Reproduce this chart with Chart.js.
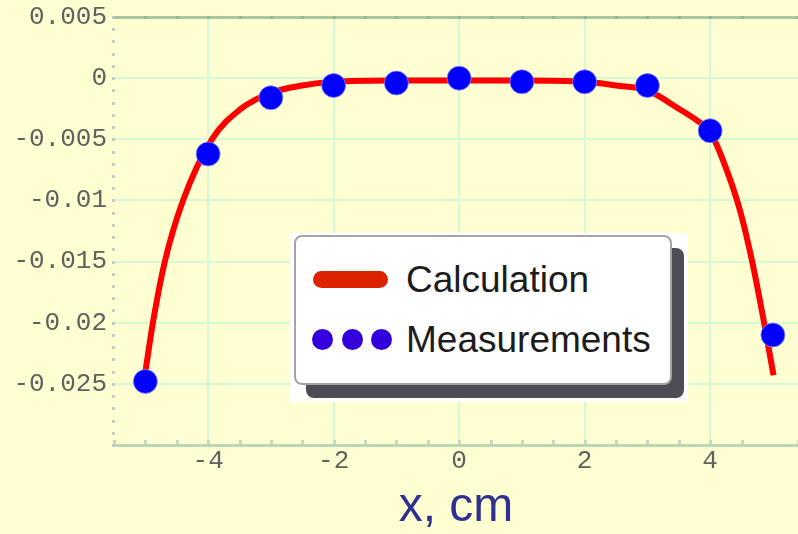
<!DOCTYPE html>
<html>
<head>
<meta charset="utf-8">
<script src="https://cdn.jsdelivr.net/npm/chart.js@4.4.1/dist/chart.umd.min.js"></script>
<style>
  html, body { margin: 0; padding: 0; background: #ffffd2; overflow: hidden; }
  #wrap { position: relative; width: 798px; height: 534px; }
  #legendPaper { position: absolute; left: 290px; top: 233px; width: 398px; height: 169px; background: #fff; }
  #legendShadow { position: absolute; left: 16px; top: 15px; width: 378px; height: 150px; background: #4d4d57; border-radius: 8px; }
  #legendBox { position: absolute; left: 4px; top: 2px; width: 378px; height: 150px; box-sizing: border-box;
               border: 2px solid #a4a4a4; border-radius: 8px; background: #fff; }
  .item { position: absolute; left: 0; width: 374px; height: 36px; }
  .item:nth-child(1) { top: 25px; }
  .item:nth-child(2) { top: 85px; }
  .item .label { position: absolute; left: 110px; top: 0; font: 37px "Liberation Sans", Arial, sans-serif;
                 line-height: 36px; color: #1c1c1c; white-space: nowrap; }
  .item .bar { position: absolute; left: 17px; top: 9px; width: 75px; height: 17px; border-radius: 9px; background: #dd2200; }
  .item .dot { position: absolute; top: 7px; width: 21px; height: 21px; border-radius: 50%; background: #3300dd; }
</style>
</head>
<body>
<div id="wrap">
  <canvas id="chart" width="798" height="534"></canvas>
  <div id="legendPaper">
    <div id="legendShadow"></div>
    <div id="legendBox"></div>
  </div>
</div>
<script>
// measured points
const measX = [-5, -4, -3, -2, -1, 0, 1, 2, 3, 4, 5];
const measY = [-0.0248, -0.0062, -0.0016, -0.0006, -0.0004, 0.0000, -0.0003, -0.0003, -0.0006, -0.0043, -0.0210];

// calculated curve
const calcX = [-5.0, -4.88, -4.69, -4.40, -3.94, -3.5, -3.0, -2.5, -2.0, -1.0, 0, 1.0, 2.0, 2.5, 3.0, 3.5, 3.8, 4.0, 4.27, 4.48, 4.67, 4.86, 5.01];
const calcY = [-0.0240, -0.0200, -0.0150, -0.0100, -0.0050, -0.0026, -0.0012, -0.0006, -0.0003, -0.0002, -0.0002,
               -0.0002, -0.0003, -0.0006, -0.0010, -0.0025, -0.0035, -0.0044, -0.0076, -0.0109, -0.0150, -0.0200, -0.0243];

// labelled ticks
const xTickLabels = [-4, -2, 0, 2, 4];
const yTickLabels = [0.005, 0, -0.005, -0.01, -0.015, -0.02, -0.025];

const near = (a, b) => Math.abs(a - b) < 1e-9;
const isLabelled = (list, v) => list.some(l => near(l, v));

const tickFont = { family: 'Liberation Mono', size: 26 };
const gridGreen = '#d4fad4';

// little tick marks along the frame edges
const minorTicks = {
  id: 'minorTicks',
  beforeDatasetsDraw(chart) {
    const { ctx, chartArea: a, scales: { x, y } } = chart;
    ctx.save();
    x.ticks.forEach(t => {
      const px = Math.round(x.getPixelForValue(t.value));
      ctx.fillStyle = '#c4d8c4';
      ctx.fillRect(px - 1, a.bottom - 5, 3, 4);
      ctx.fillStyle = '#94b894';
      ctx.fillRect(px - 1, a.top - 1, 3, 3);
    });
    y.ticks.forEach(t => {
      const py = Math.round(y.getPixelForValue(t.value));
      ctx.fillStyle = '#c8c8c8';
      ctx.fillRect(a.left - 2, py - 1, 3, 3);
    });
    ctx.restore();
  }
};

const ctx = document.getElementById('chart').getContext('2d');

const chart = new Chart(ctx, {
  type: 'line',
  data: {
    datasets: [{
      label: 'Calculation',
      data: calcX.map((x, i) => ({ x: x, y: calcY[i] })),
      borderColor: '#ff0000',
      borderWidth: 6,
      pointRadius: 0,
      fill: false,
      cubicInterpolationMode: 'monotone',
      order: 1
    }, {
      label: 'Measurements',
      data: measX.map((x, i) => ({ x: x, y: measY[i] })),
      showLine: false,
      pointRadius: 12,
      pointBackgroundColor: '#0000ff',
      pointBorderColor: 'rgba(140,140,255,0.8)',
      pointBorderWidth: 1,
      order: 0
    }]
  },
  options: {
    responsive: false,
    animation: false,
    layout: { autoPadding: false, padding: { top: 17, right: 0, bottom: 0, left: 0 } },
    plugins: {
      legend: { display: false },
      tooltip: { enabled: false }
    },
    scales: {
      x: {
        type: 'linear',
        min: -5.5,
        max: 5.4,
        afterFit: s => {
          s.height = 89;
          s.paddingLeft = 0;
          s.paddingRight = 0;
        },
        ticks: {
          stepSize: 0.5,
          autoSkip: false,
          maxRotation: 0,
          padding: 1,
          color: '#606060',
          font: tickFont,
          callback: v => isLabelled(xTickLabels, v) ? String(Math.round(v)) : ''
        },
        grid: {
          drawTicks: false,
          lineWidth: 2,
          color: c => isLabelled(xTickLabels, c.tick.value) ? gridGreen : 'transparent'
        },
        border: { color: '#b8d8b8', width: 3 },
        title: {
          display: true,
          text: 'x, cm',
          color: '#2e3192',
          font: { family: 'Liberation Sans', size: 48, lineHeight: 1.1 },
          padding: { top: 0, bottom: 0 }
        }
      },
      y: {
        min: -0.03,
        max: 0.005,
        afterFit: s => {
          s.width = 114;
          s.paddingTop = 0;
          s.paddingBottom = 0;
        },
        ticks: {
          stepSize: 0.001,
          autoSkip: false,
          padding: 7,
          color: '#606060',
          font: tickFont,
          callback: v => isLabelled(yTickLabels, v) ? String(Math.round(v * 1000) / 1000) : ''
        },
        grid: {
          drawTicks: false,
          lineWidth: c => near(c.tick.value, 0.005) ? 3 : 2,
          color: c => {
            if (near(c.tick.value, 0.005)) return '#a8c8a0';
            return isLabelled(yTickLabels, c.tick.value) ? gridGreen : 'transparent';
          }
        },
        border: { display: false }
      }
    }
  },
  plugins: [minorTicks]
});

// legend box built from the datasets
const legendBox = document.getElementById('legendBox');
chart.data.datasets.forEach(ds => {
  const row = document.createElement('div');
  row.className = 'item';
  if (ds.showLine === false) {
    [15.5, 45.5, 74.5].forEach(left => {
      const dot = document.createElement('div');
      dot.className = 'dot';
      dot.style.left = left + 'px';
      row.appendChild(dot);
    });
  } else {
    const bar = document.createElement('div');
    bar.className = 'bar';
    row.appendChild(bar);
  }
  const label = document.createElement('span');
  label.className = 'label';
  label.textContent = ds.label;
  row.appendChild(label);
  legendBox.appendChild(row);
});
</script>
</body>
</html>
